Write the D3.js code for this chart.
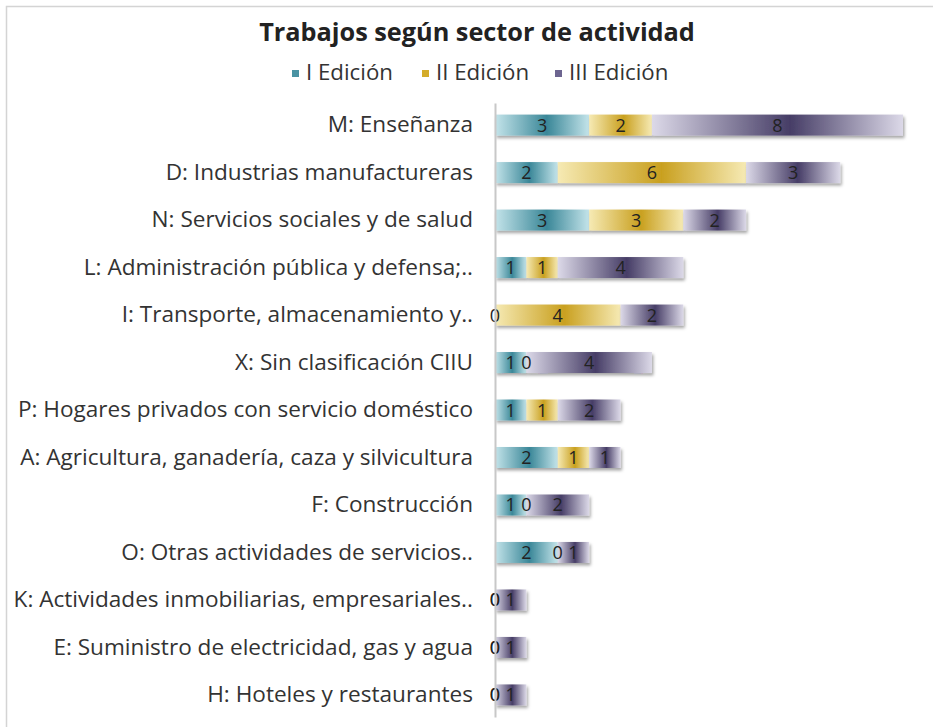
<!DOCTYPE html>
<html><head><meta charset="utf-8">
<script src="https://cdn.jsdelivr.net/npm/d3@7"></script>
<style>body{margin:0;background:#fff;} svg{display:block;}</style>
</head><body>
<script>
const categories = [
  "M: Enseñanza",
  "D: Industrias manufactureras",
  "N: Servicios sociales y de salud",
  "L: Administración pública y defensa;..",
  "I: Transporte, almacenamiento y..",
  "X: Sin clasificación CIIU",
  "P: Hogares privados con servicio doméstico",
  "A: Agricultura, ganadería, caza y silvicultura",
  "F: Construcción",
  "O: Otras actividades de servicios..",
  "K: Actividades inmobiliarias, empresariales..",
  "E: Suministro de electricidad, gas y agua",
  "H: Hoteles y restaurantes"
];
const seriesNames = ["I Edición", "II Edición", "III Edición"];
const edicion1 = [3, 2, 3, 1, 0, 1, 1, 2, 1, 2, 0, 0, 0];
const edicion2 = [2, 6, 3, 1, 4, 0, 1, 1, 0, 0, 0, 0, 0];
const edicion3 = [8, 3, 2, 4, 2, 4, 2, 1, 2, 1, 1, 1, 1];
const title = "Trabajos según sector de actividad";

const W = 933, H = 727;
const FONT = "'Open Sans', sans-serif";
const svg = d3.select("body").append("svg").attr("width", W).attr("height", H);
const defs = svg.append("defs");
const palettes = [
  {light: "#c4e4ea", dark: "#3a8798", legend: "#4a93a3"},
  {light: "#f6eab4", dark: "#c9a01f", legend: "#d4ac2a"},
  {light: "#dcd9e8", dark: "#463d66", legend: "#6d6590"}
];
palettes.forEach((p, i) => {
  const g = defs.append("linearGradient").attr("id", "grad" + i)
    .attr("x1", 0).attr("x2", 1).attr("y1", 0).attr("y2", 0);
  g.append("stop").attr("offset", 0).attr("stop-color", p.light);
  g.append("stop").attr("offset", 0.55).attr("stop-color", p.dark);
  g.append("stop").attr("offset", 1).attr("stop-color", p.light);
});
const f = defs.append("filter").attr("id", "shadow").attr("x", "-10%").attr("y", "-30%").attr("width", "130%").attr("height", "180%");
f.append("feDropShadow").attr("dx", 1.5).attr("dy", 2.5).attr("stdDeviation", 1.5)
  .attr("flood-color", "#000").attr("flood-opacity", 0.35);

// fit a font size so that text spans a target width
function fitSize(str, weight, target) {
  const t = svg.append("text").attr("font-family", FONT).attr("font-weight", weight)
    .attr("font-size", 20).text(str);
  const w = t.node().getComputedTextLength();
  t.remove();
  return 20 * target / w;
}

// border
svg.append("rect").attr("x", 6.5).attr("y", 6.5).attr("width", 940).attr("height", 740)
  .attr("fill", "none").attr("stroke", "#d4d4d4").attr("stroke-width", 1.5);

const titleSize = fitSize(title, "bold", 436);
svg.append("text").attr("x", 477).attr("y", 41).attr("text-anchor", "middle")
  .attr("font-family", FONT).attr("font-weight", "bold")
  .attr("font-size", titleSize).attr("fill", "#222").text(title);

const data = categories.map((c, i) => ({cat: c, vals: [edicion1[i], edicion2[i], edicion3[i]]}));
const x = d3.scaleLinear().domain([0, 13]).range([495, 903]);
const y = d3.scaleBand().domain(categories).range([103, 717]).paddingInner(0.558).paddingOuter(0.244);

// legend
const legendSize = fitSize("I Edición", "normal", 87);
const legendX = [292, 422, 555];
const lg = svg.append("g");
seriesNames.forEach((s, i) => {
  lg.append("rect").attr("x", legendX[i]).attr("y", 70).attr("width", 7).attr("height", 7).attr("fill", palettes[i].legend);
  lg.append("text").attr("x", legendX[i] + 14).attr("y", 80)
    .attr("font-family", FONT).attr("font-size", legendSize).attr("fill", "#333").text(s);
});

// bars
const rows = svg.append("g").selectAll("g").data(data).join("g");
rows.each(function(d) {
  const g = d3.select(this);
  let cum = 0;
  const segs = d.vals.map((v, i) => { const s = {i, v, x0: cum, x1: cum + v}; cum += v; return s; });
  segs.forEach(s => {
    if (s.v > 0) {
      g.append("rect").attr("x", x(s.x0)).attr("y", y(d.cat)).attr("width", x(s.x1) - x(s.x0))
        .attr("height", y.bandwidth()).attr("fill", `url(#grad${s.i})`).attr("filter", "url(#shadow)");
    }
  });
  segs.forEach(s => {
    g.append("text").attr("x", (x(s.x0) + x(s.x1)) / 2).attr("y", y(d.cat) + y.bandwidth() / 2 + 6.5)
      .attr("text-anchor", "middle").attr("font-family", FONT).attr("font-size", 18)
      .attr("fill", "#222").text(s.v);
  });
});

// axis
const labelSize = fitSize("A: Agricultura, ganadería, caza y silvicultura", "normal", 453);
const axis = svg.append("g").attr("transform", `translate(${x(0)},0)`)
  .call(d3.axisLeft(y).tickSize(0).tickPadding(22));
axis.select(".domain").attr("stroke", "#c8c8c8").attr("stroke-width", 2);
axis.selectAll(".tick text").attr("font-family", FONT).attr("font-size", labelSize).attr("fill", "#333");
rows.raise();
</script>
</body></html>
